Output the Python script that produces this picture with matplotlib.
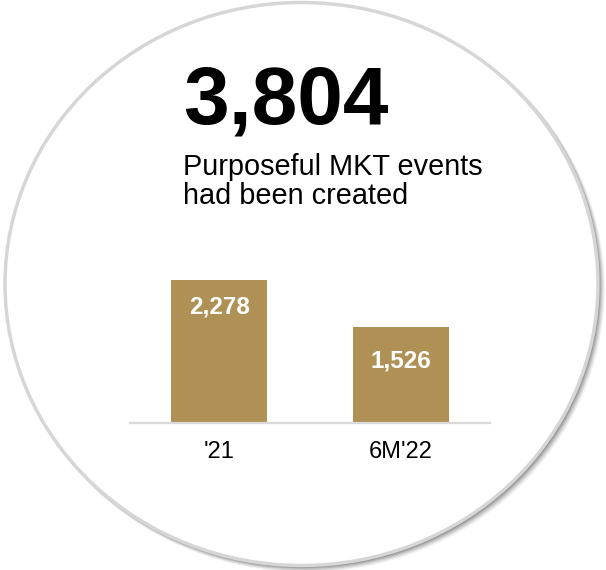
import matplotlib
matplotlib.use("Agg")
import matplotlib.pyplot as plt
from matplotlib.patches import Ellipse

categories = ["'21", "6M'22"]
values = [2278, 1526]
value_labels = ["2,278", "1,526"]
total_label = "3,804"
subtitle_lines = ["Purposeful MKT events", "had been created"]

label_offsets_px = [27, 34]

plt.rcParams['font.family'] = ['Liberation Sans', 'DejaVu Sans']

W, H = 606, 570
fig = plt.figure(figsize=(W / 100, H / 100), dpi=100)
fig.patch.set_facecolor('white')

bg = fig.add_axes([0, 0, 1, 1])
bg.set_xlim(0, W)
bg.set_ylim(H, 0)
bg.axis('off')

cx, cy, ew, eh = 301.5, 284, 593, 563
# shadow
for d, a in [(9, 0.05), (7.5, 0.07), (6, 0.09), (4.5, 0.12), (3, 0.15), (1.5, 0.18)]:
    bg.add_patch(Ellipse((cx + d * 0.5, cy + d * 0.5), ew + d * 0.5, eh + d * 0.5,
                         facecolor='black', edgecolor='none', alpha=a))
bg.add_patch(Ellipse((cx, cy), ew, eh, facecolor='white', edgecolor='#d6d6d6', linewidth=2.5))

bg.text(183, 123, total_label, fontsize=59, fontweight='bold', color='black',
        ha='left', va='baseline')
bg.text(183, 175, subtitle_lines[0], fontsize=20.8, color='black', ha='left', va='baseline')
bg.text(183, 204, subtitle_lines[1], fontsize=20.8, color='black', ha='left', va='baseline')

ax = fig.add_axes([130 / W, (H - 423) / H, 360 / W, 163 / H])
ax.patch.set_alpha(0)
x = list(range(len(categories)))
bars = ax.bar(x, values, width=0.527, color='#B09155')
ax.set_xlim(-0.49, 1.49)
ax.set_ylim(0, max(values) * 163 / 143)
for s in ['top', 'left', 'right']:
    ax.spines[s].set_visible(False)
ax.spines['bottom'].set_color('#d9d9d9')
ax.spines['bottom'].set_linewidth(1.6)
ax.set_yticks([])
ax.set_xticks(x)
ax.set_xticklabels(categories, fontsize=17)
ax.tick_params(axis='x', length=0, pad=13)

for xi, v, lab, off in zip(x, values, value_labels, label_offsets_px):
    ax.annotate(lab, xy=(xi, v), xytext=(0, -off * 0.72), textcoords='offset points',
                ha='center', va='center', color='white', fontsize=17.5, fontweight='bold')

fig.savefig('out.png', dpi=100)
